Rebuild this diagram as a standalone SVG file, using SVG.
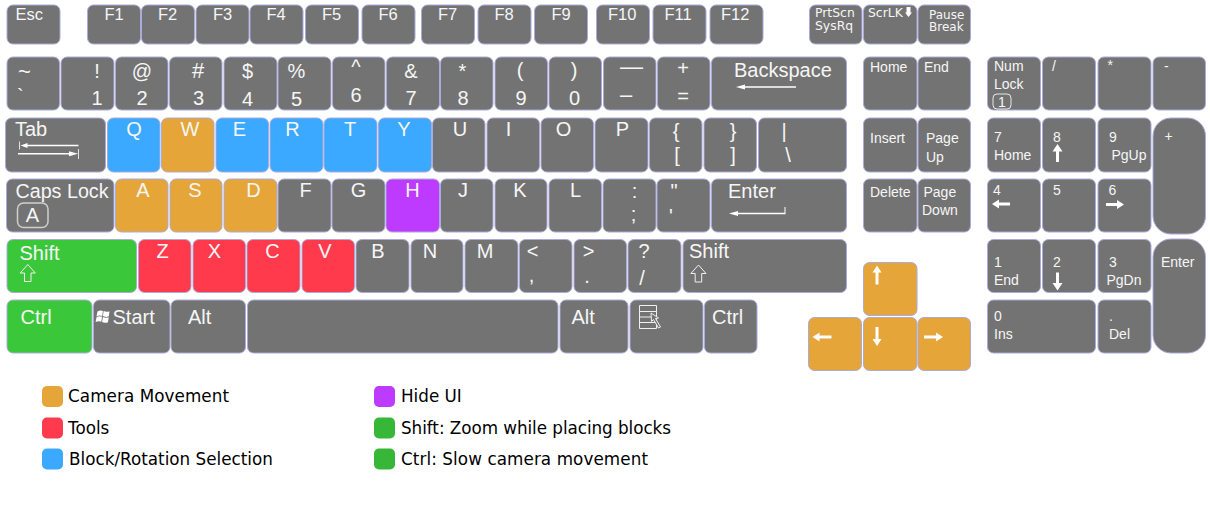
<svg xmlns="http://www.w3.org/2000/svg" width="1210" height="510" viewBox="0 0 1210 510">
<style>
rect.k{rx:6px;ry:6px;stroke:#aaaadc;stroke-width:1;fill:#737373}
rect.o{fill:#e5a539}rect.b{fill:#3aa9ff}rect.r{fill:#ff3a4d}rect.p{fill:#bd3aff}rect.g{fill:#3ac83a}
text{font-family:"Liberation Sans",Arial,sans-serif;fill:#f6f6f6;font-size:20px}
.f{font-size:16.5px}.s{font-size:14px}.m{text-anchor:middle}
.u{font-family:"DejaVu Sans",sans-serif;font-size:12.4px}
.l{font-family:"DejaVu Sans",sans-serif;fill:#000;font-size:16.8px}
.i{fill:none;stroke:#f0f0f0;stroke-width:1}
.a{fill:#fff}
rect.sw{rx:5px;ry:5px}
</style>
<rect width="1210" height="510" fill="#fff"/>
<g id="row-function">
<g id="key-esc"><rect class="k" x="7" y="5" width="53" height="39"/><text class="f" x="15.500" y="20">Esc</text></g>
<g id="key-f1"><rect class="k" x="87.500" y="5" width="53" height="39"/><text class="f" x="104.500" y="20">F1</text></g>
<g id="key-f2"><rect class="k" x="141.500" y="5" width="53" height="39"/><text class="f" x="158" y="20">F2</text></g>
<g id="key-f3"><rect class="k" x="196" y="5" width="53" height="39"/><text class="f" x="213" y="20">F3</text></g>
<g id="key-f4"><rect class="k" x="250" y="5" width="53" height="39"/><text class="f" x="266.500" y="20">F4</text></g>
<g id="key-f5"><rect class="k" x="305.500" y="5" width="53" height="39"/><text class="f" x="322" y="20">F5</text></g>
<g id="key-f6"><rect class="k" x="362" y="5" width="53" height="39"/><text class="f" x="378.500" y="20">F6</text></g>
<g id="key-f7"><rect class="k" x="421.500" y="5" width="53" height="39"/><text class="f" x="438" y="20">F7</text></g>
<g id="key-f8"><rect class="k" x="478" y="5" width="53" height="39"/><text class="f" x="494.500" y="20">F8</text></g>
<g id="key-f9"><rect class="k" x="534.500" y="5" width="53" height="39"/><text class="f" x="551.500" y="20">F9</text></g>
<g id="key-f10"><rect class="k" x="596.500" y="5" width="53" height="39"/><text class="f" x="608" y="20">F10</text></g>
<g id="key-f11"><rect class="k" x="653" y="5" width="53" height="39"/><text class="f" x="664.500" y="20">F11</text></g>
<g id="key-f12"><rect class="k" x="710" y="5" width="53" height="39"/><text class="f" x="721" y="20">F12</text></g>
<g id="key-prtscn"><rect class="k" x="809.500" y="5" width="52.500" height="39"/><text class="u" x="815" y="17">PrtScn</text><text class="u" x="815" y="30">SysRq</text></g>
<g id="key-scrlk"><rect class="k" x="863.500" y="5" width="53.500" height="39"/><text class="u" x="868" y="17">ScrLK</text><path class="a" d="M906.500 7h4v5.500h1.500l-3.500 4.500-3.500-4.500h1.500z"/></g>
<g id="key-pause"><rect class="k" x="918" y="5" width="52.500" height="39"/><text class="u" style="font-size:12px" x="929" y="19">Pause</text><text class="u" style="font-size:12px" x="929" y="31">Break</text></g>
</g>
<g id="row-number">
<g id="key-tilde"><rect class="k" x="7" y="57" width="52.500" height="53"/><text style="font-size:22px" x="18" y="78.500">~</text><text x="17" y="102.500">`</text></g>
<g id="key-1"><rect class="k" x="61" y="57" width="53" height="53"/><text class="m" x="97" y="78">!</text><text class="m" x="97" y="105">1</text></g>
<g id="key-2"><rect class="k" x="115.500" y="57" width="52.500" height="53"/><text class="m" x="142" y="78">@</text><text class="m" x="142" y="105">2</text></g>
<g id="key-3"><rect class="k" x="169.500" y="57" width="52.500" height="53"/><text class="m" style="font-size:22px" x="198" y="78">#</text><text class="m" x="198.500" y="105">3</text></g>
<g id="key-4"><rect class="k" x="224" y="57" width="53" height="53"/><text class="m" x="247.500" y="78">$</text><text class="m" x="247.500" y="105.500">4</text></g>
<g id="key-5"><rect class="k" x="278" y="57" width="53" height="53"/><text class="m" x="296.500" y="78">%</text><text class="m" x="296.500" y="105.500">5</text></g>
<g id="key-6"><rect class="k" x="332.500" y="57" width="52.500" height="53"/><text class="m" x="356" y="74">^</text><text class="m" x="356" y="102">6</text></g>
<g id="key-7"><rect class="k" x="386.500" y="57" width="53" height="53"/><text class="m" x="411" y="78">&amp;</text><text class="m" x="411" y="105">7</text></g>
<g id="key-8"><rect class="k" x="440.500" y="57" width="52.500" height="53"/><text class="m" x="462.500" y="77.500">*</text><text class="m" x="463" y="105">8</text></g>
<g id="key-9"><rect class="k" x="495" y="57" width="52.500" height="53"/><text class="m" x="520" y="76.500">(</text><text class="m" x="521" y="105">9</text></g>
<g id="key-0"><rect class="k" x="549" y="57" width="52.500" height="53"/><text class="m" x="574" y="76.500">)</text><text class="m" x="574.500" y="105">0</text></g>
<g id="key-minus"><rect class="k" x="603.500" y="57" width="52.500" height="53"/><text class="m" style="font-size:23px" x="631.500" y="74">—</text><text class="m" style="font-size:22px" x="626" y="102">–</text></g>
<g id="key-plus"><rect class="k" x="657.500" y="57" width="52.500" height="53"/><text class="m" x="683" y="75">+</text><text class="m" x="683" y="103">=</text></g>
<g id="key-backspace"><rect class="k" x="711.500" y="57" width="135" height="53"/><text x="734" y="77">Backspace</text><path class="a" d="M736 87l9-2.500v1.800h51v1.400h-51v1.800z"/></g>
</g>
<g id="row-tab">
<g id="key-tab"><rect class="k" x="5.500" y="118" width="100" height="54"/><text x="15" y="136">Tab</text><path class="a" d="M19 141.500h.8v8h-.8zM20.500 145.500l7-2.500v1.800h51v1.400h-51v1.800zM18 153h51v-1.800l9 2.500-9 2.500v-1.800h-51zM78 149h.8v10h-.8z"/></g>
<g id="key-q"><rect class="k b" x="107.500" y="118" width="52.500" height="54"/><text class="m" x="134" y="136">Q</text></g>
<g id="key-w"><rect class="k o" x="161.500" y="118" width="52.500" height="54"/><text class="m" x="190" y="136">W</text></g>
<g id="key-e"><rect class="k b" x="216" y="118" width="52.500" height="54"/><text class="m" x="239.500" y="136">E</text></g>
<g id="key-r"><rect class="k b" x="270" y="118" width="53" height="54"/><text class="m" x="292.500" y="136">R</text></g>
<g id="key-t"><rect class="k b" x="324" y="118" width="53" height="54"/><text class="m" x="350" y="136">T</text></g>
<g id="key-y"><rect class="k b" x="378.500" y="118" width="53" height="54"/><text class="m" x="404" y="136">Y</text></g>
<g id="key-u"><rect class="k" x="432.500" y="118" width="52.500" height="54"/><text class="m" x="460" y="136">U</text></g>
<g id="key-i"><rect class="k" x="487" y="118" width="52.500" height="54"/><text class="m" x="508.500" y="136">I</text></g>
<g id="key-o"><rect class="k" x="541" y="118" width="52.500" height="54"/><text class="m" x="563.500" y="136">O</text></g>
<g id="key-p"><rect class="k" x="595" y="118" width="53" height="54"/><text class="m" x="622.500" y="136">P</text></g>
<g id="key-lbrace"><rect class="k" x="649.500" y="118" width="52.500" height="54"/><text class="m" x="676" y="137.500">{</text><text class="m" x="677" y="161.500">[</text></g>
<g id="key-rbrace"><rect class="k" x="704" y="118" width="52.500" height="54"/><text class="m" x="733" y="137.500">}</text><text class="m" x="733" y="161.500">]</text></g>
<g id="key-backslash"><rect class="k" x="758.500" y="118" width="88" height="54"/><text class="m" x="784" y="137.500">|</text><text class="m" x="788" y="161.500">\</text></g>
</g>
<g id="row-caps">
<g id="key-caps"><rect class="k" x="6.500" y="179" width="107.500" height="53"/><text style="font-size:19.700px" x="15.500" y="197.500">Caps Lock</text><rect x="17.500" y="203" width="30.500" height="24.500" rx="6" fill="none" stroke="#cfcfcf" stroke-width="1.500"/><text class="m" x="32.500" y="222">A</text></g>
<g id="key-a"><rect class="k o" x="115.500" y="179" width="52.500" height="53"/><text class="m" x="143" y="197">A</text></g>
<g id="key-s"><rect class="k o" x="170" y="179" width="52" height="53"/><text class="m" x="195" y="197">S</text></g>
<g id="key-d"><rect class="k o" x="224" y="179" width="53" height="53"/><text class="m" x="253.500" y="197">D</text></g>
<g id="key-f"><rect class="k" x="278" y="179" width="53" height="53"/><text class="m" x="305.500" y="197">F</text></g>
<g id="key-g"><rect class="k" x="332" y="179" width="53" height="53"/><text class="m" x="358.500" y="197">G</text></g>
<g id="key-h"><rect class="k p" x="386" y="179" width="53.500" height="53"/><text class="m" x="412.500" y="197">H</text></g>
<g id="key-j"><rect class="k" x="440.500" y="179" width="52.500" height="53"/><text class="m" x="463" y="197">J</text></g>
<g id="key-k"><rect class="k" x="495" y="179" width="52" height="53"/><text class="m" x="520" y="197">K</text></g>
<g id="key-l"><rect class="k" x="549" y="179" width="52.500" height="53"/><text class="m" x="575.500" y="197">L</text></g>
<g id="key-colon"><rect class="k" x="603" y="179" width="53" height="53"/><text class="m" x="634.500" y="198">:</text><text class="m" x="633.500" y="221">;</text></g>
<g id="key-quote"><rect class="k" x="657" y="179" width="53" height="53"/><text class="m" x="674" y="197.500">"</text><text class="m" x="671" y="222.500">'</text></g>
<g id="key-enter"><rect class="k" x="711.500" y="179" width="135" height="53"/><text x="728" y="197.500">Enter</text><path class="a" d="M729 213.500l9-2.500v1.800h46.500v-5.800h1v7.200h-47.500v1.800z"/></g>
</g>
<g id="row-shift">
<g id="key-shift-left"><rect class="k g" x="7" y="239.500" width="129.500" height="53"/><text x="19.500" y="260">Shift</text><path class="i" d="M27.800 264.500l7.500 8.500h-4.300v8.500h-6.500v-8.500h-4.300z"/></g>
<g id="key-z"><rect class="k r" x="138.500" y="239.500" width="52.500" height="53"/><text class="m" x="162.500" y="258">Z</text></g>
<g id="key-x"><rect class="k r" x="193" y="239.500" width="52.500" height="53"/><text class="m" x="214.500" y="258">X</text></g>
<g id="key-c"><rect class="k r" x="247" y="239.500" width="53" height="53"/><text class="m" x="272.500" y="258">C</text></g>
<g id="key-v"><rect class="k r" x="302" y="239.500" width="52.500" height="53"/><text class="m" x="325" y="258">V</text></g>
<g id="key-b"><rect class="k" x="356" y="239.500" width="53" height="53"/><text class="m" x="378" y="258">B</text></g>
<g id="key-n"><rect class="k" x="411" y="239.500" width="52" height="53"/><text class="m" x="430" y="258">N</text></g>
<g id="key-m"><rect class="k" x="465" y="239.500" width="53" height="53"/><text class="m" x="485" y="258">M</text></g>
<g id="key-comma"><rect class="k" x="519.500" y="239.500" width="52.500" height="53"/><text class="m" x="532.500" y="258">&lt;</text><text class="m" x="531.500" y="282">,</text></g>
<g id="key-period"><rect class="k" x="574" y="239.500" width="52.500" height="53"/><text class="m" x="588.500" y="258">&gt;</text><text class="m" x="587" y="283">.</text></g>
<g id="key-slash"><rect class="k" x="628" y="239.500" width="53" height="53"/><text class="m" x="644" y="258">?</text><text class="m" x="642" y="284.500">/</text></g>
<g id="key-shift-right"><rect class="k" x="683" y="239.500" width="163.500" height="53"/><text x="689" y="258">Shift</text><path class="i" d="M698.500 265l7.500 8.500h-4.300v8.500h-6.500v-8.500h-4.300z"/></g>
</g>
<g id="row-bottom">
<g id="key-ctrl-left"><rect class="k g" x="7" y="300" width="85" height="53"/><text x="20.500" y="323.500">Ctrl</text></g>
<g id="key-start"><rect class="k" x="93.500" y="300" width="76.500" height="53"/><path class="a" d="M97.500 311.500q2.500-1.500 5.500-.5l-.8 5q-2.700-1-5.700 .3zM103.700 311q2.800 1.500 5.800 .3l-.7 5q-3 1.300-5.900-.2zM96.600 317q2.700-1.300 5.500-.3l-.8 5q-2.800-1-5.700 .3zM102.900 317q2.900 1.500 5.800 .2l-.7 5q-3 1.300-5.900-.2z"/><text x="112.500" y="323.500">Start</text></g>
<g id="key-alt-left"><rect class="k" x="171" y="300" width="74.500" height="53"/><text x="188" y="323.500">Alt</text></g>
<g id="key-space"><rect class="k" x="247.500" y="300" width="310.500" height="53"/></g>
<g id="key-alt-right"><rect class="k" x="560" y="300" width="68" height="53"/><text x="571.500" y="323.500">Alt</text></g>
<g id="key-menu"><rect class="k" x="630" y="300" width="73" height="53"/><path class="i" d="M639.500 305.500h17v23h-17zM639.500 311.500h17M639.500 317h17M639.500 322.500h17"/><path d="M651 313l.5 8.500 2-2 5 8.500 2-1-5-8.500 3-.5z" fill="#737373" stroke="#f0f0f0" stroke-width="1"/></g>
<g id="key-ctrl-right"><rect class="k" x="704.500" y="300" width="52.500" height="53"/><text x="712" y="323.500">Ctrl</text></g>
</g>
<g id="block-navigation">
<g id="key-home"><rect class="k" x="863.500" y="57" width="53.500" height="53"/><text class="s" x="870" y="72">Home</text></g>
<g id="key-end"><rect class="k" x="918" y="57" width="52.500" height="53"/><text class="s" x="924" y="72">End</text></g>
<g id="key-insert"><rect class="k" x="863.500" y="118" width="53.500" height="54"/><text class="s" x="870" y="143">Insert</text></g>
<g id="key-pageup"><rect class="k" x="918" y="118" width="52.500" height="54"/><text class="s" x="926" y="143">Page</text><text class="s" x="926" y="161.500">Up</text></g>
<g id="key-delete"><rect class="k" x="863.500" y="179" width="53.500" height="53"/><text class="s" x="870" y="197">Delete</text></g>
<g id="key-pagedown"><rect class="k" x="918" y="179" width="52.500" height="53"/><text class="s" x="923.500" y="197">Page</text><text class="s" x="922" y="215">Down</text></g>
<g id="key-up"><rect class="k o" x="863.500" y="262.500" width="53.500" height="53"/><path class="a" d="M877 265.500l4.500 7h-3v12h-3v-12h-3z"/></g>
<g id="key-left"><rect class="k o" x="808.500" y="317.500" width="53" height="53"/><path class="a" d="M812.500 337l7-4.500v3h12v3h-12v3z"/></g>
<g id="key-down"><rect class="k o" x="863.500" y="317.500" width="53.500" height="53"/><path class="a" d="M877 346l4.500-7h-3v-12h-3v12h-3z"/></g>
<g id="key-right"><rect class="k o" x="918" y="317.500" width="52.500" height="53"/><path class="a" d="M943 337l-7-4.500v3h-12v3h12v3z"/></g>
</g>
<g id="block-numpad">
<g id="key-numlock"><rect class="k" x="987.500" y="57" width="53" height="53"/><text class="s" x="994" y="70.500">Num</text><text class="s" x="994" y="88.500">Lock</text><rect x="993" y="94" width="18" height="15" rx="4" fill="none" stroke="#e8e8e8" stroke-width="1"/><text class="s m" x="1002" y="107">1</text></g>
<g id="key-num-slash"><rect class="k" x="1042.500" y="57" width="53" height="53"/><text class="s" x="1052" y="71">/</text></g>
<g id="key-num-star"><rect class="k" x="1098" y="57" width="53" height="53"/><text class="s" x="1107.500" y="70">*</text></g>
<g id="key-num-minus"><rect class="k" x="1153" y="57" width="52.500" height="53"/><text class="s" x="1164" y="70.500">-</text></g>
<g id="key-num-7"><rect class="k" x="987.500" y="118" width="53" height="54"/><text class="s" x="994" y="142">7</text><text class="s" x="994" y="160">Home</text></g>
<g id="key-num-8"><rect class="k" x="1042.500" y="118" width="53" height="54"/><text class="s" x="1053" y="142">8</text><path class="a" d="M1057.500 144l5 7.500h-3.500v10.500h-3v-10.500h-3.500z"/></g>
<g id="key-num-9"><rect class="k" x="1098" y="118" width="53" height="54"/><text class="s" x="1109" y="142">9</text><text class="s" x="1111.500" y="160">PgUp</text></g>
<g id="key-num-plus"><rect class="k" x="1153" y="118" width="52.500" height="116" style="rx:18px;ry:18px"/><text class="s" x="1164.500" y="141">+</text></g>
<g id="key-num-4"><rect class="k" x="987.500" y="179" width="53" height="53"/><text class="s" x="993" y="195">4</text><path class="a" d="M992 204l7-4.500v3h11v3h-11v3z"/></g>
<g id="key-num-5"><rect class="k" x="1042.500" y="179" width="53" height="53"/><text class="s" x="1053" y="195">5</text></g>
<g id="key-num-6"><rect class="k" x="1098" y="179" width="53" height="53"/><text class="s" x="1108.500" y="195">6</text><path class="a" d="M1124 204.500l-7-4.500v3h-11v3h11v3z"/></g>
<g id="key-num-1"><rect class="k" x="987.500" y="239.500" width="53" height="53"/><text class="s" x="994" y="267">1</text><text class="s" x="994" y="285">End</text></g>
<g id="key-num-2"><rect class="k" x="1042.500" y="239.500" width="53" height="53"/><text class="s" x="1053" y="267">2</text><path class="a" d="M1057.500 290.500l5-7.500h-3.500v-10.500h-3v10.500h-3.500z"/></g>
<g id="key-num-3"><rect class="k" x="1098" y="239.500" width="53" height="53"/><text class="s" x="1109" y="267">3</text><text class="s" x="1106.500" y="285">PgDn</text></g>
<g id="key-num-enter"><rect class="k" x="1153" y="239" width="52.500" height="114" style="rx:18px;ry:18px"/><text class="s" x="1161" y="267">Enter</text></g>
<g id="key-num-0"><rect class="k" x="987.500" y="300" width="108" height="53"/><text class="s" x="994" y="321">0</text><text class="s" x="994" y="338.500">Ins</text></g>
<g id="key-num-dot"><rect class="k" x="1098" y="300" width="53" height="53"/><text class="s" x="1109" y="321">.</text><text class="s" x="1109" y="338.500">Del</text></g>
</g>
<g id="legend">
<g id="legend-camera"><rect class="sw" x="42" y="386" width="21" height="21" fill="#e5a539"/><text class="l" x="68" y="402" textLength="161">Camera Movement</text></g>
<g id="legend-tools"><rect class="sw" x="42" y="417.500" width="21" height="21" fill="#ff3a4d"/><text class="l" x="68" y="434">Tools</text></g>
<g id="legend-block"><rect class="sw" x="42" y="448.500" width="21" height="21" fill="#3aa9ff"/><text class="l" x="69" y="465">Block/Rotation Selection</text></g>
<g id="legend-hide"><rect class="sw" x="374" y="386" width="21" height="21" fill="#bd3aff"/><text class="l" x="401" y="402">Hide UI</text></g>
<g id="legend-shift"><rect class="sw" x="374" y="417.500" width="21" height="21" fill="#36b737"/><text class="l" x="401" y="434" textLength="270">Shift: Zoom while placing blocks</text></g>
<g id="legend-ctrl"><rect class="sw" x="374" y="448.500" width="21" height="21" fill="#36b737"/><text class="l" x="401" y="465" textLength="247">Ctrl: Slow camera movement</text></g>
</g>
</svg>
